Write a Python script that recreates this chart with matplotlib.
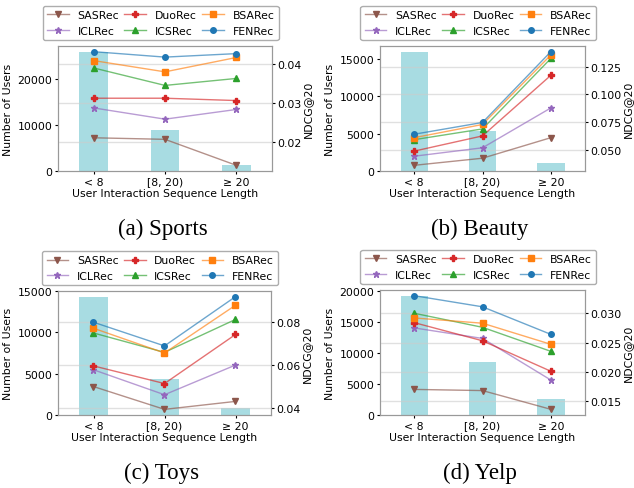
import matplotlib
matplotlib.use("Agg")
import matplotlib.pyplot as plt

plt.rcParams['font.size'] = 7.8

# categories and methods
groups = ['< 8', '[8, 20)', '≥ 20']
methods = ['SASRec', 'ICLRec', 'DuoRec', 'ICSRec', 'BSARec', 'FENRec']

# number of users per group
sports_users = [25800, 8800, 1300]
beauty_users = [15900, 5300, 1100]
toys_users = [14300, 4400, 900]
yelp_users = [19200, 8600, 2600]

# NDCG@20, one row per method (same order as methods)
sports_ndcg = [[0.0210, 0.0206, 0.0139],
               [0.0287, 0.0258, 0.0283],
               [0.0312, 0.0312, 0.0306],
               [0.0390, 0.0345, 0.0363],
               [0.0409, 0.0380, 0.0417],
               [0.0432, 0.0418, 0.0427]]
beauty_ndcg = [[0.0360, 0.0424, 0.0609],
               [0.0442, 0.0518, 0.0877],
               [0.0488, 0.0625, 0.1171],
               [0.0591, 0.0688, 0.1323],
               [0.0609, 0.0728, 0.1354],
               [0.0640, 0.0746, 0.1384]]
toys_ndcg = [[0.0498, 0.0392, 0.0429],
             [0.0576, 0.0460, 0.0598],
             [0.0594, 0.0512, 0.0740],
             [0.0747, 0.0657, 0.0810],
             [0.0769, 0.0654, 0.0876],
             [0.0797, 0.0687, 0.0916]]
yelp_ndcg = [[0.0170, 0.0168, 0.0136],
             [0.0275, 0.0257, 0.0186],
             [0.0284, 0.0253, 0.0201],
             [0.0300, 0.0276, 0.0235],
             [0.0292, 0.0283, 0.0247],
             [0.0330, 0.0311, 0.0264]]

captions = ['(a) Sports', '(b) Beauty', '(c) Toys', '(d) Yelp']

colors = {'SASRec': '#8c564b', 'ICLRec': '#9467bd', 'DuoRec': '#d62728',
          'ICSRec': '#2ca02c', 'BSARec': '#ff7f0e', 'FENRec': '#1f77b4'}
markers = {'SASRec': 'v', 'ICLRec': '*', 'DuoRec': 'P',
           'ICSRec': '^', 'BSARec': 's', 'FENRec': 'o'}

fig = plt.figure(figsize=(6.34, 4.89), dpi=100)

# axes boxes in pixels: left, top, right, bottom
boxes = [(58, 47, 272, 172), (380, 47, 585, 172),
         (58, 292, 271, 416), (380, 291, 585, 416)]
W, H = 634, 489

datasets = [(sports_users, sports_ndcg), (beauty_users, beauty_ndcg),
            (toys_users, toys_ndcg), (yelp_users, yelp_ndcg)]

for (users, ndcg), box, cap in zip(datasets, boxes, captions):
    l, t, r, b = box
    ax = fig.add_axes([l / W, 1 - b / H, (r - l) / W, (b - t) / H])
    x = list(range(len(groups)))
    ax.bar(x, users, width=0.4, color='#a8dce2')
    ax.set_xlim(-0.5, 2.5)
    ax.set_xticks(x)
    ax.set_xticklabels(groups)
    ax.set_ylabel('Number of Users', labelpad=3)
    ax.set_xlabel('User Interaction Sequence Length', labelpad=1)

    ax2 = ax.twinx()
    for m, vals in zip(methods, ndcg):
        c = matplotlib.colors.to_rgba(colors[m], 0.65)
        ax2.plot(x, vals, color=c, lw=1.0, marker=markers[m],
                 ms=5 if m == 'ICLRec' else 4, mfc=colors[m], mec=colors[m],
                 label=m)
    ax2.set_ylabel('NDCG@20', labelpad=0.5)
    ax2.grid(axis='y', color='#cccccc', alpha=0.6, lw=1)
    for a in (ax, ax2):
        a.tick_params(length=2.5, pad=1.5)
        for s in a.spines.values():
            s.set_color('#999999')

    ax2.legend(ncol=3, loc='lower center', bbox_to_anchor=(0.48, 1.048),
               borderaxespad=0, columnspacing=0.5, handletextpad=0.8,
               fancybox=True, edgecolor='#999999')

    fig.text((l + r) / 2 / W - 0.004, 1 - (b + 57) / H, cap,
             family='Liberation Serif', fontsize=16.5, ha='center', va='center')

fig.savefig('out.png', dpi=100)
